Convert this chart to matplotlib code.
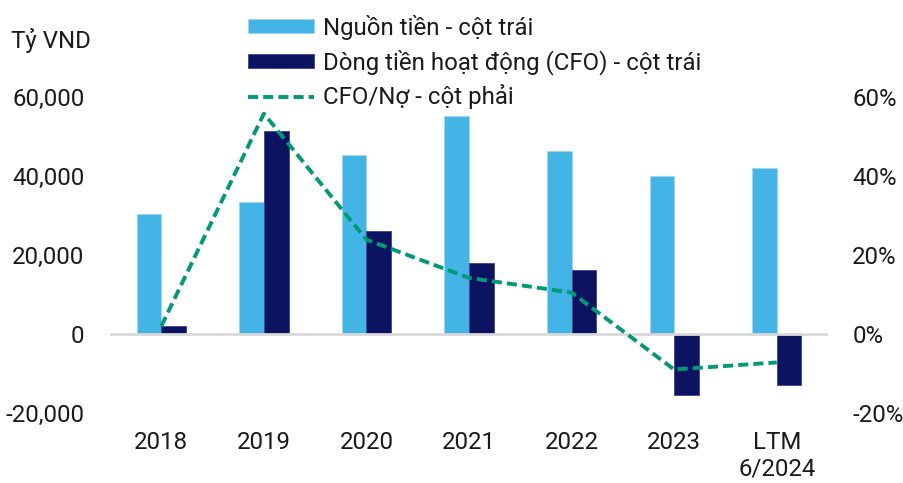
import matplotlib
matplotlib.use("Agg")
import matplotlib.pyplot as plt
import numpy as np
from matplotlib.ticker import FuncFormatter, MultipleLocator

plt.rcParams["font.family"] = ["Roboto", "DejaVu Sans"]

categories = ["2018", "2019", "2020", "2021", "2022", "2023", "LTM\n6/2024"]
funding = [30400, 33500, 45300, 55100, 46400, 40000, 42000]
cfo = [2000, 51400, 26000, 18000, 16300, -15400, -13000]
cfo_to_debt = [0.02, 0.558, 0.239, 0.142, 0.105, -0.09, -0.072]

light_blue = "#42B4E6"
navy = "#0C1461"
green = "#009A76"
fs = 17.3

fig = plt.figure(figsize=(9.04, 4.83), dpi=100)
ax = fig.add_axes([0.1217, 0.145, 0.7943, 0.654])
ax2 = ax.twinx()

x = np.arange(len(categories))
w = 0.24
ax.bar(x - w / 2, funding, w, color=light_blue, edgecolor="#9fd6f0", linewidth=0.6,
       label="Nguồn tiền - cột trái", zorder=2)
ax.bar(x + w / 2, cfo, w, color=navy, edgecolor="#3a4390", linewidth=0.6,
       label="Dòng tiền hoạt động (CFO) - cột trái", zorder=2)
ax.axhline(0, color="#D9D9D9", linewidth=2, zorder=3)

ln, = ax2.plot(x, cfo_to_debt, color=green, linewidth=2.8, dashes=(2.6, 1.3),
               label="CFO/Nợ - cột phải", zorder=4)

ax.set_xlim(-0.5, len(categories) - 0.5)
ax.set_ylim(-20000, 60000)
ax2.set_ylim(-0.2, 0.6)
ax.yaxis.set_major_locator(MultipleLocator(20000))
ax2.yaxis.set_major_locator(MultipleLocator(0.2))
ax.yaxis.set_major_formatter(FuncFormatter(lambda v, p: f"{v:,.0f}"))
ax2.yaxis.set_major_formatter(FuncFormatter(lambda v, p: f"{v:.0%}"))
ax.set_xticks(x)
ax.set_xticklabels(categories, linespacing=1.2)

for a in (ax, ax2):
    for s in a.spines.values():
        s.set_visible(False)
ax.tick_params(axis="both", length=0, labelsize=fs, colors="#1a1a1a")
ax.tick_params(axis="y", pad=18.5)
ax.tick_params(axis="x", pad=13)
ax2.tick_params(axis="y", length=0, labelsize=fs, colors="#1a1a1a", pad=17.5)

fig.text(0.012, 0.917, "Tỷ VND", fontsize=fs, color="#1a1a1a", va="center")

handles, labels = ax.get_legend_handles_labels()
handles.append(ln)
labels.append(ln.get_label())
fig.legend(handles, labels, loc="upper left", bbox_to_anchor=(0.260, 0.997),
           frameon=False, fontsize=fs, handlelength=2.75, handleheight=0.52,
           handletextpad=0.35, labelspacing=0.4, borderpad=0.05,
           labelcolor="#1a1a1a")

fig.savefig("out.png", dpi=100)
